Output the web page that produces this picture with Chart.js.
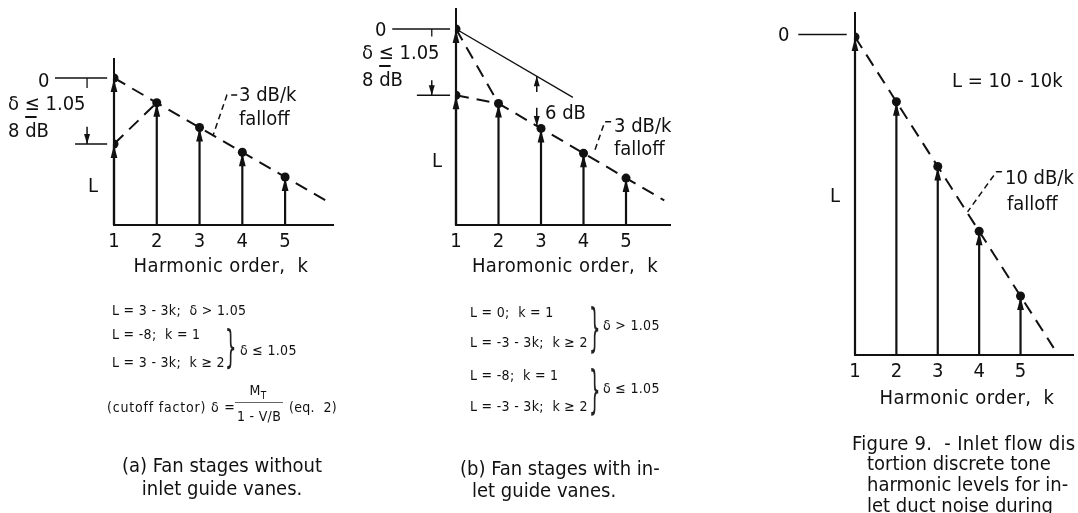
<!DOCTYPE html>
<html>
<head>
<meta charset="utf-8">
<script src="https://cdn.jsdelivr.net/npm/chart.js@4.4.1/dist/chart.umd.min.js"></script>
<style>
  body { margin: 0; background: #fff; width: 1078px; height: 513px; overflow: hidden; position: relative;
         font-family: 'DejaVu Sans Condensed', 'Liberation Sans Narrow', sans-serif; color: #111; }
  canvas { position: absolute; top: 0; }
  .t { position: absolute; white-space: pre; line-height: 1; transform: translateY(-50%); font-size: 20px; }
  .c { transform: translate(-50%, -50%); }
  .w { letter-spacing: 0.4px; }
  .s { font-size: 14px; letter-spacing: 0.3px; }
  .ov { text-decoration: overline; }
  .br { position: absolute; line-height: 1; font-size: 40px; color: #222; font-family: 'DejaVu Sans', sans-serif; transform-origin: left center; }
</style>
</head>
<body>
<canvas id="chartA" width="360" height="290" style="left:0"></canvas>
<canvas id="chartB" width="360" height="290" style="left:360px"></canvas>
<canvas id="chartC" width="358" height="400" style="left:720px"></canvas>

<!-- panel (a) -->
<div class="t" style="left:38px;top:80px">0</div>
<div class="t" style="left:8px;top:103px">δ ≤ 1.05</div>
<div class="t" style="left:8px;top:130px">8 <span class="ov">d</span>B</div>
<div class="t" style="left:88px;top:185px">L</div>
<div class="t" style="left:239px;top:94px">3 dB/k</div>
<div class="t" style="left:239px;top:118px">falloff</div>
<div class="t c w" style="left:221px;top:265px">Harmonic order,  k</div>
<div class="t s" style="left:112px;top:310px">L = 3 - 3k;  δ &gt; 1.05</div>
<div class="t s" style="left:112px;top:334px">L = -8;  k = 1</div>
<div class="t s" style="left:112px;top:362px">L = 3 - 3k;  k ≥ 2</div>
<div class="br" style="left:225px;top:347px;transform:translateY(-50%) scale(0.45,1.1)">}</div>
<div class="t s" style="left:240px;top:350px">δ ≤ 1.05</div>
<div class="t s" style="left:107px;top:407px;letter-spacing:0.8px">(cutoff factor) δ =</div>
<div class="t s c" style="left:258px;top:392px">M<sub style="font-size:10px">T</sub></div>
<div style="position:absolute;left:235px;top:402px;width:48px;border-top:1px solid #666"></div>
<div class="t s c" style="left:259px;top:416px">1 - V/B</div>
<div class="t s" style="left:289px;top:407px">(eq.  2)</div>
<div class="t c" style="left:222px;top:465px">(a) Fan stages without</div>
<div class="t c" style="left:222px;top:488px">inlet guide vanes.</div>

<!-- panel (b) -->
<div class="t" style="left:375px;top:29px">0</div>
<div class="t" style="left:362px;top:52px">δ ≤ 1.05</div>
<div class="t" style="left:362px;top:79px">8 <span class="ov">d</span>B</div>
<div class="t" style="left:432px;top:160px">L</div>
<div class="t" style="left:545px;top:112px">6 dB</div>
<div class="t" style="left:614px;top:125px">3 dB/k</div>
<div class="t" style="left:614px;top:148px">falloff</div>
<div class="t c w" style="left:565px;top:265px">Haromonic order,  k</div>
<div class="t s" style="left:470px;top:312px">L = 0;  k = 1</div>
<div class="t s" style="left:470px;top:342px">L = -3 - 3k;  k ≥ 2</div>
<div class="br" style="left:589px;top:327px;transform:translateY(-50%) scale(0.45,1.3)">}</div>
<div class="t s" style="left:603px;top:325px">δ &gt; 1.05</div>
<div class="t s" style="left:470px;top:375px">L = -8;  k = 1</div>
<div class="t s" style="left:470px;top:406px">L = -3 - 3k;  k ≥ 2</div>
<div class="br" style="left:589px;top:389px;transform:translateY(-50%) scale(0.45,1.28)">}</div>
<div class="t s" style="left:603px;top:388px">δ ≤ 1.05</div>
<div class="t" style="left:460px;top:468px">(b) Fan stages with in-</div>
<div class="t" style="left:472px;top:490px">let guide vanes.</div>

<!-- panel (c) -->
<div class="t" style="left:778px;top:34px">0</div>
<div class="t" style="left:952px;top:80px">L = 10 - 10k</div>
<div class="t" style="left:1005px;top:177px">10 dB/k</div>
<div class="t" style="left:1007px;top:203px">falloff</div>
<div class="t" style="left:830px;top:195px">L</div>
<div class="t c w" style="left:967px;top:397px">Harmonic order,  k</div>
<div class="t" style="left:852px;top:443px;letter-spacing:0.3px">Figure 9.  - Inlet flow dis</div>
<div class="t" style="left:867px;top:463px">tortion discrete tone</div>
<div class="t" style="left:867px;top:484px">harmonic levels for in-</div>
<div class="t" style="left:867px;top:505px">let duct noise during</div>

<script>
const FONT = "'DejaVu Sans Condensed', 'Liberation Sans Narrow', sans-serif";
const INK = '#111';

// harmonic order k and the axis tick labels
const harmonics = [1, 2, 3, 4, 5];
const tickLabels = ['1', '2', '3', '4', '5'];

// (a) without inlet guide vanes, L in dB
const levelsA = [0, -3, -6, -9, -12];
const cutoffA = [{ x: 1, y: -8 }];
const falloffA = [{ x: 1, y: 0 }, { x: 6.1, y: -15.3 }];
const cutoffLineA = [{ x: 1, y: -8 }, { x: 2, y: -3 }];

// (b) with inlet guide vanes
const levelsB = [0, -9, -12, -15, -18];
const cutoffB = [{ x: 1, y: -8 }];
const dropB = [{ x: 1, y: 0 }, { x: 2, y: -9 }];
const falloffB = [{ x: 1, y: -8 }, { x: 2, y: -9 }, { x: 5.9, y: -20.7 }];
const refLineB = [{ x: 1, y: 0 }, { x: 3.75, y: -8.25 }];

// (c) inlet flow distortion
const levelsC = [0, -10, -20, -30, -40];
const falloffC = [{ x: 1, y: 0 }, { x: 5.8, y: -48 }];

// annotation strokes, in data units (k, L)
const notesA = [
  { line: [[-0.38, 0], [0.84, 0]] },
  { line: [[0.37, 0], [0.37, -1.2]], width: 1.3 },
  { line: [[0.09, -8], [0.84, -8]] },
  { arrow: [[0.37, -5.9], [0.37, -8]] },
  { line: [[3.88, -2.06], [3.64, -2.06], [3.32, -6.9]], dash: [6, 4], width: 1.5 }
];
const notesB = [
  { line: [[-0.5, 0], [0.86, 0]] },
  { line: [[0.43, 0], [0.43, -0.9]], width: 1.3 },
  { line: [[0.08, -8], [0.86, -8]] },
  { arrow: [[0.43, -6.2], [0.43, -8]] },
  { arrow: [[2.9, -7.6], [2.9, -5.7]] },
  { arrow: [[2.9, -9.5], [2.9, -11.7]] },
  { line: [[4.65, -11.2], [4.5, -11.2], [4.25, -14.9]], dash: [6, 4], width: 1.5 }
];
const notesC = [
  { line: [[-0.37, 0.4], [0.8, 0.4]] },
  { line: [[4.55, -20.8], [4.42, -20.8], [3.72, -27]], dash: [6, 4], width: 1.5 }
];

function arrowHead(ctx, x, y, ang, len, half) {
  ctx.beginPath();
  ctx.moveTo(x, y);
  ctx.lineTo(x - len * Math.cos(ang) + half * Math.sin(ang), y - len * Math.sin(ang) - half * Math.cos(ang));
  ctx.lineTo(x - len * Math.cos(ang) - half * Math.sin(ang), y - len * Math.sin(ang) + half * Math.cos(ang));
  ctx.closePath();
  ctx.fill();
}

// vertical stems with arrowheads under every level dot
const stemPlugin = {
  id: 'stems',
  beforeDatasetsDraw(chart) {
    const ctx = chart.ctx;
    const base = chart.scales.y.bottom;
    chart.data.datasets.forEach((ds, i) => {
      if (!ds.stem) return;
      chart.getDatasetMeta(i).data.forEach(pt => {
        ctx.save();
        ctx.strokeStyle = INK;
        ctx.fillStyle = INK;
        ctx.lineWidth = 2.2;
        ctx.beginPath();
        ctx.moveTo(pt.x, base);
        ctx.lineTo(pt.x, pt.y);
        ctx.stroke();
        arrowHead(ctx, pt.x, pt.y + 1, -Math.PI / 2, 13, 3.4);
        ctx.restore();
      });
    });
  }
};

function notesPlugin(notes) {
  return {
    id: 'notes',
    afterDatasetsDraw(chart) {
      const ctx = chart.ctx;
      const xs = chart.scales.x, ys = chart.scales.y;
      const px = p => [xs.getPixelForValue(p[0]), ys.getPixelForValue(p[1])];
      ctx.save();
      ctx.strokeStyle = INK;
      ctx.fillStyle = INK;
      notes.forEach(n => {
        const pts = (n.line || n.arrow).map(px);
        ctx.lineWidth = n.width || 1.5;
        ctx.setLineDash(n.dash || []);
        ctx.beginPath();
        pts.forEach((p, i) => i ? ctx.lineTo(p[0], p[1]) : ctx.moveTo(p[0], p[1]));
        ctx.stroke();
        if (n.arrow) {
          const [a, b] = pts;
          arrowHead(ctx, b[0], b[1], Math.atan2(b[1] - a[1], b[0] - a[0]), 10, 3);
        }
      });
      ctx.restore();
    }
  };
}

function dots(values) {
  return { data: values.map((v, i) => ({ x: harmonics[i], y: v })), stem: true,
           pointRadius: 4.5, pointBackgroundColor: INK, pointBorderWidth: 0, showLine: false };
}
function pts(data) {
  return { data, stem: true, pointRadius: 4.5, pointBackgroundColor: INK, pointBorderWidth: 0, showLine: false };
}
function dashed(data, dash, width) {
  return { data, showLine: true, borderColor: INK, borderWidth: width || 2, borderDash: dash || [],
           pointRadius: 0, fill: false };
}

function stemChart(id, xMax, yMin, yMax, pad, axisH, datasets, notes) {
  return new Chart(document.getElementById(id), {
    type: 'scatter',
    data: { datasets },
    options: {
      responsive: false,
      animation: false,
      layout: { padding: pad },
      plugins: { legend: { display: false }, tooltip: { enabled: false } },
      scales: {
        x: {
          type: 'linear', min: 1, max: xMax,
          grid: { display: false, drawTicks: false },
          border: { color: INK, width: 2 },
          afterBuildTicks: a => { a.ticks = harmonics.map(v => ({ value: v })); },
          afterFit: a => { a.height = axisH; },
          ticks: { color: INK, font: { family: FONT, size: 20 }, padding: 5, maxRotation: 0, autoSkip: false,
                   callback: v => tickLabels[harmonics.indexOf(v)] }
        },
        y: {
          type: 'linear', min: yMin, max: yMax,
          grid: { display: false, drawTicks: false },
          border: { color: INK, width: 2 },
          ticks: { display: false },
          afterFit: a => { a.width = 0; }
        }
      }
    },
    plugins: [stemPlugin, notesPlugin(notes)]
  });
}

const chartA = stemChart('chartA', 6.12, -17.82, 2.3, { left: 114, top: 59, right: 27, bottom: 35 }, 30, [
  dots(levelsA),
  pts(cutoffA),
  dashed(falloffA, [13, 8]),
  dashed(cutoffLineA, [13, 8])
], notesA);

const chartB = stemChart('chartB', 6.035, -23.67, 2.42, { left: 96, top: 9, right: 50, bottom: 35 }, 30, [
  dots(levelsB),
  pts(cutoffB),
  dashed(dropB, [13, 8]),
  dashed(falloffB, [13, 8]),
  dashed(refLineB, [], 1.3)
], notesB);

const chartC = stemChart('chartC', 6.28, -49.1, 3.7, { left: 135, top: 13, right: 0, bottom: 15 }, 30, [
  dots(levelsC),
  dashed(falloffC, [13, 8])
], notesC);
</script>
</body>
</html>
